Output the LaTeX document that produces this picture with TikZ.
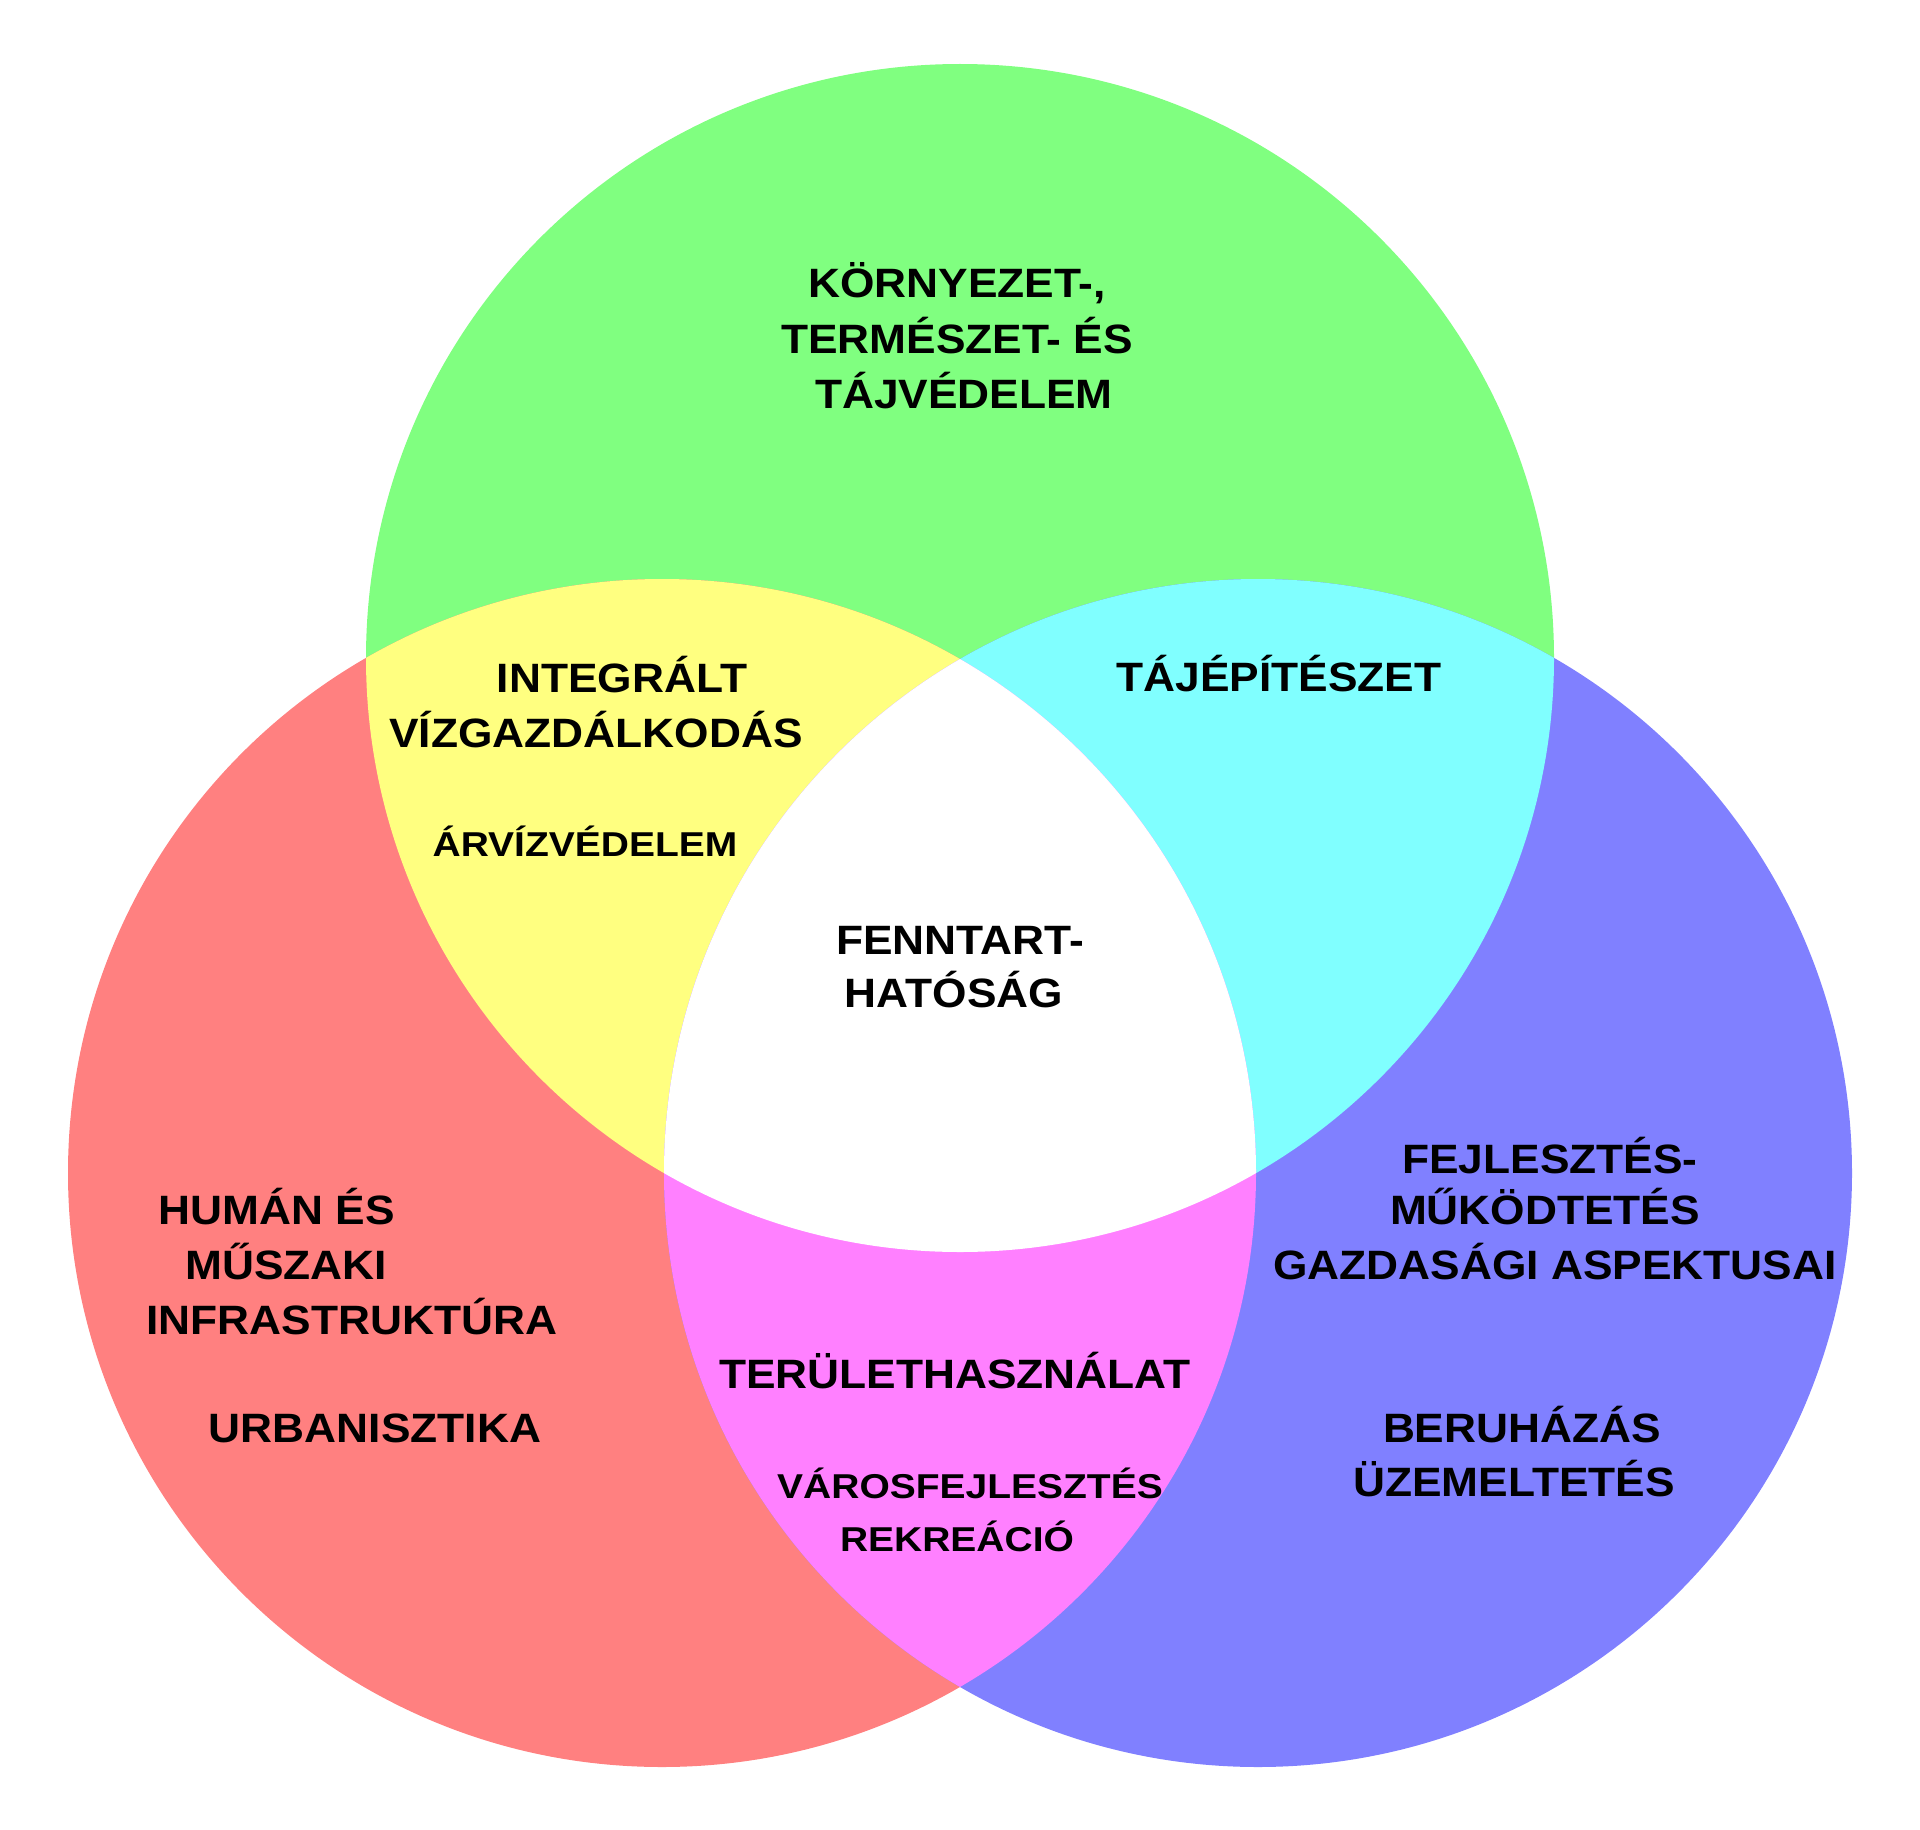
\documentclass[tikz,border=0pt]{standalone}
\usepackage{fontspec}
\setmainfont{Liberation Sans}
\newfontfamily\bigfont[FakeStretch=1.08]{Liberation Sans}
\newfontfamily\smallfont[FakeStretch=1.13]{Liberation Sans}
\begin{document}
\begin{tikzpicture}[x=1pt,y=-1pt,
    big/.style={anchor=base,inner sep=0pt,font=\bigfont\fontsize{41}{48}\selectfont\bfseries},
    small/.style={anchor=base,inner sep=0pt,font=\smallfont\fontsize{34.5}{41}\selectfont\bfseries}]
  \useasboundingbox (0,0) rectangle (1920,1830);
  \coordinate (G) at (960,658);
  \coordinate (R) at (662,1173);
  \coordinate (B) at (1258,1173);
  \def\rad{594pt}
  % the three circles
  \fill[fill={rgb,255:red,128;green,255;blue,128}] (G) circle[radius=\rad];
  \fill[fill={rgb,255:red,255;green,128;blue,128}] (R) circle[radius=\rad];
  \fill[fill={rgb,255:red,128;green,128;blue,255}] (B) circle[radius=\rad];
  % overlaps
  \begin{scope}
    \clip (G) circle[radius=\rad];
    \fill[fill={rgb,255:red,255;green,255;blue,128}] (R) circle[radius=\rad];
    \fill[fill={rgb,255:red,128;green,255;blue,255}] (B) circle[radius=\rad];
  \end{scope}
  \begin{scope}
    \clip (R) circle[radius=\rad];
    \fill[fill={rgb,255:red,255;green,128;blue,255}] (B) circle[radius=\rad];
    \clip (B) circle[radius=\rad];
    \fill[white] (G) circle[radius=\rad];
  \end{scope}
  % labels
  \node[big] (env1) at (957,298) {KÖRNYEZET-,};
  \node[big] (env2) at (957,353) {TERMÉSZET- ÉS};
  \node[big] (env3) at (964,408) {TÁJVÉDELEM};
  \node[big] (water1) at (622,692) {INTEGRÁLT};
  \node[big] (water2) at (596,747) {VÍZGAZDÁLKODÁS};
  \node[small] (flood) at (585,856) {ÁRVÍZVÉDELEM};
  \node[big] (land) at (1279,691) {TÁJÉPÍTÉSZET};
  \node[big] (sust1) at (960,954) {FENNTART-};
  \node[big] (sust2) at (954,1007) {HATÓSÁG};
  \node[big] (hum1) at (277,1224) {HUMÁN ÉS};
  \node[big] (hum2) at (286,1279) {MŰSZAKI};
  \node[big] (hum3) at (352,1334) {INFRASTRUKTÚRA};
  \node[big] (urb) at (375,1442) {URBANISZTIKA};
  \node[big] (use) at (955,1388) {TERÜLETHASZNÁLAT};
  \node[small] (city) at (970,1498) {VÁROSFEJLESZTÉS};
  \node[small] (rec) at (957,1551) {REKREÁCIÓ};
  \node[big] (eco1) at (1550,1173) {FEJLESZTÉS-};
  \node[big] (eco2) at (1545,1224) {MŰKÖDTETÉS};
  \node[big] (eco3) at (1555,1279) {GAZDASÁGI ASPEKTUSAI};
  \node[big] (inv1) at (1522,1442) {BERUHÁZÁS};
  \node[big] (inv2) at (1514,1496) {ÜZEMELTETÉS};
\end{tikzpicture}
\end{document}
